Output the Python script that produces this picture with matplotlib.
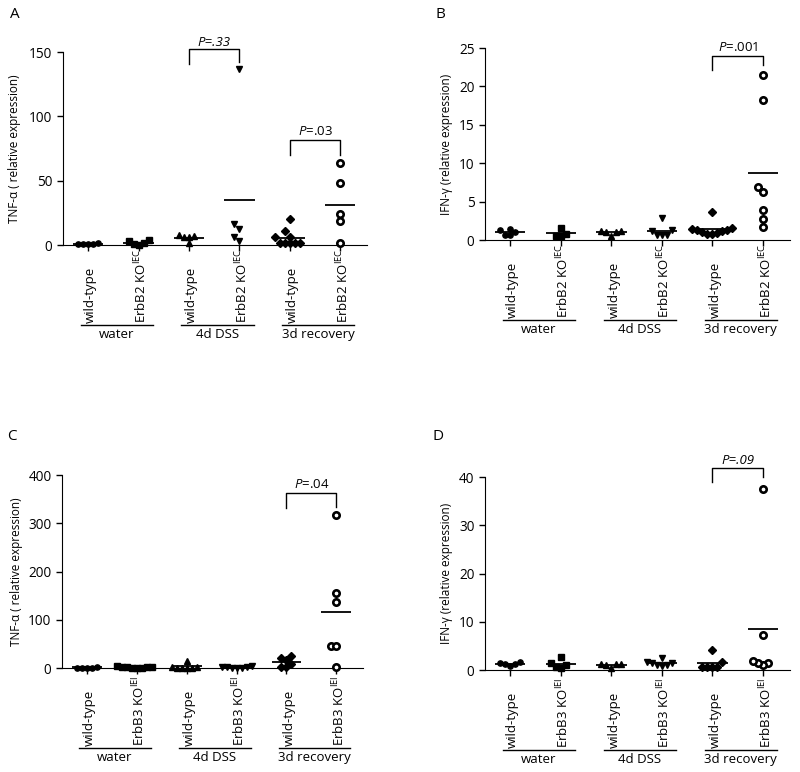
import numpy as np
import matplotlib.pyplot as plt

plt.rcParams['font.family'] = ['Open Sans', 'DejaVu Sans']
plt.rcParams['mathtext.fontset'] = 'custom'
plt.rcParams['mathtext.rm'] = 'Open Sans'
plt.rcParams['mathtext.it'] = 'Open Sans:italic'

groups = ['water', '4d DSS', '3d recovery']

# columns: wt water, KO water, wt DSS, KO DSS, wt recovery, KO recovery
tnf_erbb2 = [
    [1.8, 1.0, 0.5, 1.0, 1.0],
    [3.2, 0.4, 0.6, 1.5, 4.0],
    [6.5, 7.0, 1.5, 6.5, 7.5],
    [137, 16.3, 12.1, 6.5, 3.4],
    [20.2, 11.1, 6.5, 6.0, 1.5, 1.5, 1.5, 1.5, 1.5],
    [64.1, 48.3, 24.5, 18.9, 1.3],
]
ifn_erbb2 = [
    [1.45, 1.05, 0.6, 0.7, 1.25],
    [0.8, 0.55, 0.55, 1.6],
    [1.1, 1.2, 0.5, 1.2, 1.1],
    [2.9, 1.3, 0.6, 0.6, 0.6, 1.2],
    [3.7, 1.5, 1.3, 1.0, 0.8, 0.8, 0.9, 1.2, 1.4, 1.3],
    [21.5, 18.2, 6.9, 6.2, 3.9, 2.8, 1.7],
]
tnf_erbb3 = [
    [2.0, 1.0, 0.5, 1.0, 1.0],
    [3.0, 1.0, 0.5, 2.0, 4.0, 1.5, 0.5, 2.0],
    [15, 1.0, 0.5, 2.0, 0.3, 1.0, 3.0],
    [4.0, 3.0, 1.0, 0.5, 1.0, 2.0, 3.0],
    [20, 24, 16, 9, 3, 3],
    [317, 155, 136, 46, 45, 3],
]
ifn_erbb3 = [
    [1.2, 0.8, 1.5, 1.7, 1.2],
    [1.0, 0.4, 2.8, 0.6, 1.5],
    [1.0, 1.2, 0.5, 1.3, 1.3],
    [2.5, 1.5, 1.1, 0.8, 1.0, 1.4, 1.6],
    [4.1, 1.7, 0.6, 0.6, 0.6, 0.6],
    [37.5, 7.3, 1.5, 1.0, 1.4, 1.8],
]

# (left col, right col, bracket top, left leg end, right leg end, text y, text, all italic)
brackets_a = [(2, 3, 152.5, 141, 142.5, 157.6, 'P=.33', True),
              (4, 5, 81.4, 69.8, 69.8, 87.9, 'P=.03', False)]
brackets_b = [(4, 5, 24.0, 22.1, 22.8, 25.1, 'P=.001', False)]
brackets_c = [(4, 5, 362, 332, 334, 380.7, 'P=.04', False)]
brackets_d = [(4, 5, 41.9, 39.0, 40.0, 43.4, 'P=.09', True)]

markers = ['o', 's', '^', 'v', 'D', 'o']
msizes = [3.8, 3.8, 4.2, 4.2, 3.6, 4.6]


def swarm(values, px_per_unit, d_px, px_per_cat):
    # simple column-scatter layout: shift points sideways when they would overlap
    values = np.asarray(values, dtype=float)
    offsets = np.zeros(len(values))
    placed = []
    for i in np.argsort(values):
        y = values[i] * px_per_unit
        cand = 0.0
        for k in range(60):
            cand = 0.0 if k == 0 else ((k + 1) // 2) * d_px * (-1 if k % 2 else 1)
            if all((cand - px) ** 2 + ((y - py) / 1.3) ** 2 >= (d_px * 0.95) ** 2 for px, py in placed):
                break
        placed.append((cand, y))
        offsets[i] = cand / px_per_cat
    return offsets


fig = plt.figure(figsize=(8, 7.72), dpi=100)


def panel(rect, data, ymax, ystep, ylabel, ko_label, brackets, letter, letter_xy, labelpad):
    ax = fig.add_axes(rect)
    ax.set_xlim(-0.5, 5.53)
    ax.set_ylim(0, ymax)
    h_px = rect[3] * 772
    w_px = rect[2] * 800
    px_per_unit = h_px / ymax
    px_per_cat = w_px / 6.03
    for i, vals in enumerate(data):
        offs = swarm(vals, px_per_unit, 5.0, px_per_cat)
        if i == 5:
            ax.plot(i + offs, vals, linestyle='none', marker='o', ms=msizes[i],
                    mfc='white', mec='black', mew=1.9, clip_on=False, zorder=3)
        else:
            ax.plot(i + offs, vals, linestyle='none', marker=markers[i], ms=msizes[i],
                    color='black', clip_on=False, zorder=3)
        ax.hlines(np.mean(vals), i - 0.3, i + 0.3, color='black', lw=1.3, zorder=2)
    for (x1, x2, top, l_end, r_end, ty, txt, all_it) in brackets:
        ax.plot([x1, x1, x2, x2], [l_end, top, top, r_end], color='black', lw=1.0, clip_on=False)
        if all_it:
            ax.text((x1 + x2) / 2, ty, txt, ha='center', va='center', fontsize=9.5,
                    style='italic')
        else:
            ax.text((x1 + x2) / 2, ty, '$P$' + txt[1:], ha='center', va='center', fontsize=9.5)
    ax.spines['top'].set_visible(False)
    ax.spines['right'].set_visible(False)
    ax.set_yticks(np.arange(0, ymax + 0.1, ystep))
    ax.set_xticks(range(6))
    ax.set_xticklabels([])
    ax.tick_params(labelsize=9.8, length=4, width=1)
    ax.set_ylabel(ylabel, fontsize=8.5, labelpad=labelpad)
    trans = ax.get_xaxis_transform()
    for i in range(6):
        lab = 'wild-type' if i % 2 == 0 else ko_label
        ax.text(i + 0.05, -0.405, lab, rotation=90, ha='center', va='bottom',
                fontsize=9.5, transform=trans)
    for g in range(3):
        ax.plot([2 * g - 0.15, 2 * g + 1.28], [-0.415, -0.415], color='black', lw=1.0,
                transform=trans, clip_on=False)
        ax.text(2 * g + 0.56, -0.43, groups[g], ha='center', va='top', fontsize=9.5,
                transform=trans)
    fig.text(letter_xy[0], letter_xy[1], letter, fontsize=11, ha='center', va='center')
    return ax


panel([0.07875, 0.6826, 0.38, 0.25], tnf_erbb2, 150, 50, 'TNF-\u03b1 ( relative expression)',
      r'ErbB2 KO$^{\mathrm{IEC}}$', brackets_a, 'A', (15 / 800, 1 - 15 / 772), 6)
panel([0.60625, 0.6891, 0.381, 0.2487], ifn_erbb2, 25, 5, 'IFN-\u03b3 (relative expression)',
      r'ErbB2 KO$^{\mathrm{IEC}}$', brackets_b, 'B', (440 / 800, 1 - 15 / 772), 4)
panel([0.0775, 0.1347, 0.376, 0.25], tnf_erbb3, 400, 100, 'TNF-\u03b1 ( relative expression)',
      r'ErbB3 KO$^{\mathrm{IEI}}$', brackets_c, 'C', (12 / 800, 1 - 437 / 772), 4)
panel([0.60625, 0.1321, 0.381, 0.25], ifn_erbb3, 40, 10, 'IFN-\u03b3 (relative expression)',
      r'ErbB3 KO$^{\mathrm{IEI}}$', brackets_d, 'D', (438 / 800, 1 - 437 / 772), 4)

fig.savefig('out.png', dpi=100)
